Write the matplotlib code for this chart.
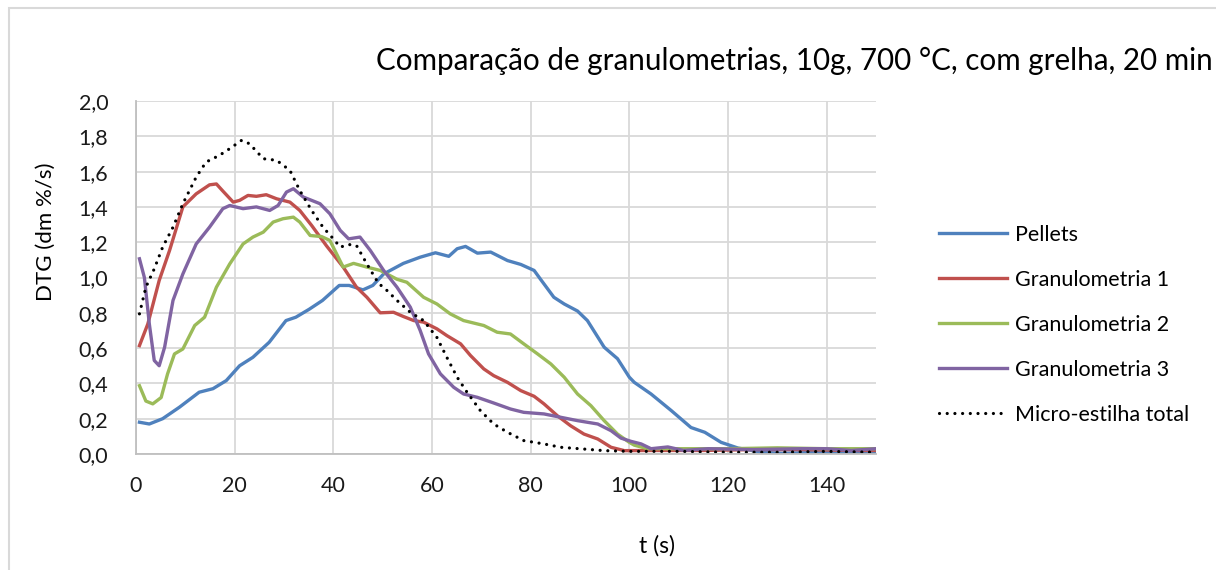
import matplotlib
matplotlib.use("Agg")
import matplotlib.pyplot as plt
from matplotlib.ticker import FuncFormatter, MultipleLocator
from matplotlib.patches import Rectangle

plt.rcParams['font.family'] = ['Lato', 'DejaVu Sans']

title = "Comparação de granulometrias, 10g, 700 °C, com grelha, 20 min"
xlabel = "t (s)"
ylabel = "DTG (dm %/s)"

pellets_t = [0.7, 2.7, 5.4, 8.8, 12.8, 15.6, 18.3, 21, 23.7, 27, 30.4, 32.4, 35.1, 37.8, 41.2, 43.2, 46, 48,
             50.2, 54.2, 57.6, 60.7, 63.4, 65.1, 66.8, 69.2, 71.9, 75.3, 78, 80.7, 82, 84.7, 86.8, 89.5, 91.5,
             94.9, 97.6, 100, 101, 104.4, 108.5, 112.5, 115.3, 118.6, 122, 126.8, 131, 139, 145.8, 150]
pellets_v = [0.18, 0.17, 0.20, 0.265, 0.35, 0.37, 0.416, 0.50, 0.548, 0.633, 0.756, 0.775, 0.82, 0.87, 0.955,
             0.955, 0.93, 0.955, 1.02, 1.08, 1.115, 1.14, 1.12, 1.163, 1.176, 1.138, 1.144, 1.096, 1.074, 1.04,
             0.99, 0.888, 0.85, 0.81, 0.756, 0.605, 0.54, 0.435, 0.406, 0.34, 0.246, 0.15, 0.123, 0.066, 0.034,
             0.01, 0.004, 0.01, 0.004, 0.01]

gran1_t = [0.7, 2.4, 4.7, 6.8, 9.5, 12.2, 14.9, 16.3, 17.6, 19.7, 21, 22.7, 24.4, 26.4, 28.5, 31.2, 33.2, 35.6,
           38.6, 42, 44.7, 46.8, 49.5, 52.2, 54.2, 56.3, 58.3, 61, 63, 65.8, 67.8, 70.5, 72.5, 75.3, 78, 80.7,
           82.7, 85.4, 88.1, 90.8, 93.6, 96.3, 99, 105, 115, 125, 135, 145, 150]
gran1_v = [0.614, 0.737, 0.983, 1.153, 1.40, 1.474, 1.525, 1.53, 1.49, 1.427, 1.437, 1.465, 1.46, 1.469, 1.446,
           1.427, 1.38, 1.295, 1.18, 1.059, 0.945, 0.888, 0.80, 0.803, 0.779, 0.756, 0.747, 0.709, 0.671, 0.624,
           0.558, 0.482, 0.444, 0.406, 0.359, 0.327, 0.284, 0.217, 0.16, 0.113, 0.085, 0.038, 0.019, 0.02, 0.02,
           0.025, 0.025, 0.02, 0.02]

gran2_t = [0.7, 2, 3.4, 5.1, 6.4, 7.8, 9.5, 11.9, 13.9, 16.3, 19, 21.7, 23.7, 25.8, 27.8, 29.8, 31.9, 33.2, 35.3,
           37.6, 39.3, 42, 44.1, 46.8, 49.5, 52.9, 54.9, 58.3, 61, 63.7, 66.4, 70.5, 73.2, 75.9, 78.6, 81.4, 84.1,
           86.8, 89.5, 92.2, 94.9, 97.6, 100, 101, 103.7, 110, 120, 130, 140, 150]
gran2_v = [0.387, 0.30, 0.284, 0.32, 0.454, 0.567, 0.595, 0.728, 0.775, 0.945, 1.077, 1.19, 1.229, 1.257, 1.314,
           1.333, 1.342, 1.314, 1.238, 1.232, 1.21, 1.059, 1.08, 1.059, 1.04, 0.99, 0.973, 0.888, 0.85, 0.794,
           0.756, 0.728, 0.69, 0.68, 0.624, 0.567, 0.51, 0.435, 0.34, 0.274, 0.189, 0.113, 0.066, 0.05, 0.03,
           0.03, 0.03, 0.035, 0.03, 0.03]

gran3_t = [0.7, 1.7, 2.7, 3.7, 4.7, 5.8, 7.5, 9.5, 12.2, 14.9, 17.6, 19, 21.7, 24.4, 27.1, 28.8, 30.5, 31.9, 33.9,
           37.3, 39.3, 41.4, 43.1, 45.4, 47.5, 50.2, 52.9, 55.6, 57.6, 59.3, 61.7, 64.4, 66.4, 69.2, 72.5, 75.9,
           78.6, 82.7, 86.1, 89.5, 93.6, 96.3, 98.3, 100.3, 102.4, 104.4, 107.8, 111, 116, 125, 135, 140, 145, 150]
gran3_v = [1.106, 1.0, 0.737, 0.53, 0.50, 0.605, 0.87, 1.02, 1.19, 1.285, 1.39, 1.408, 1.39, 1.40, 1.38, 1.408,
           1.484, 1.503, 1.456, 1.418, 1.361, 1.267, 1.219, 1.229, 1.153, 1.04, 0.945, 0.832, 0.70, 0.567, 0.454,
           0.378, 0.34, 0.321, 0.289, 0.255, 0.236, 0.227, 0.208, 0.189, 0.17, 0.132, 0.09, 0.072, 0.057, 0.03,
           0.04, 0.02, 0.03, 0.025, 0.03, 0.03, 0.02, 0.03]

micro_t = [0.7, 2, 3.7, 5.4, 7.5, 9.5, 12.2, 14.2, 16.9, 19, 21.4, 23, 25.8, 28.5, 31.2, 33.2, 35.6, 37.9, 40,
           41.4, 43.1, 44.7, 46.8, 49.2, 50.2, 52.9, 55.6, 58.3, 61, 63, 65.1, 67.1, 69.8, 72.5, 75.3, 78.6, 82.7,
           86.1, 90.8, 94.9, 100, 110, 120, 130, 140, 150]
micro_v = [0.794, 0.945, 1.049, 1.172, 1.285, 1.418, 1.569, 1.654, 1.692, 1.73, 1.777, 1.758, 1.673, 1.664, 1.607,
           1.493, 1.38, 1.285, 1.219, 1.172, 1.187, 1.181, 1.077, 0.964, 0.945, 0.87, 0.803, 0.756, 0.66, 0.548,
           0.435, 0.35, 0.246, 0.17, 0.123, 0.076, 0.057, 0.038, 0.028, 0.019, 0.015, 0.015, 0.01, 0.01, 0.015, 0.01]

series_labels = ["Pellets", "Granulometria 1", "Granulometria 2", "Granulometria 3", "Micro-estilha total"]

W, H = 1216, 570
fig = plt.figure(figsize=(W / 100, H / 100), dpi=100)
fig.patch.set_facecolor('white')

# chart outer border
fig.patches.append(Rectangle((9 / W, -0.05), 1.2, (H - 8) / H + 0.05, transform=fig.transFigure,
                             fill=False, edgecolor='#D9D9D9', linewidth=1.5))

L, R, T, B = 136, 876, 101, 454
ax = fig.add_axes([L / W, (H - B) / H, (R - L) / W, (B - T) / H])

lw = 2.4
ax.plot(pellets_t, pellets_v, color='#4F81BD', lw=lw, label=series_labels[0], solid_joinstyle='round')
ax.plot(gran1_t, gran1_v, color='#C0504D', lw=lw, label=series_labels[1], solid_joinstyle='round')
ax.plot(gran2_t, gran2_v, color='#9BBB59', lw=lw, label=series_labels[2], solid_joinstyle='round')
ax.plot(gran3_t, gran3_v, color='#8064A2', lw=lw, label=series_labels[3], solid_joinstyle='round')
ax.plot(micro_t, micro_v, color='black', lw=2.3, linestyle=(0, (0.01, 2.4)), dash_capstyle='round',
        label=series_labels[4])

ax.set_xlim(0, 150)
ax.set_ylim(0, 2.0)
ax.xaxis.set_major_locator(MultipleLocator(20))
ax.yaxis.set_major_locator(MultipleLocator(0.2))
ax.yaxis.set_major_formatter(FuncFormatter(lambda v, p: f"{v:.1f}".replace('.', ',')))
ax.xaxis.set_major_formatter(FuncFormatter(lambda v, p: f"{v:.0f}"))
ax.grid(True, color='#D9D9D9', linewidth=1.3)
ax.set_axisbelow(True)
for s in ['top', 'right']:
    ax.spines[s].set_visible(False)
for s in ['left', 'bottom']:
    ax.spines[s].set_color('#BFBFBF')
    ax.spines[s].set_linewidth(1.3)
ax.tick_params(length=0, labelsize=15.5, colors='#1a1a1a')
ax.tick_params(axis='y', pad=20)
ax.tick_params(axis='x', pad=16)

fig.text(794 / W, 1 - 61 / H, title, ha='center', va='center', fontsize=21.3, color='black')
fig.text(657 / W, 1 - 546 / H, xlabel, ha='center', va='center', fontsize=16.5, color='black')
fig.text(46 / W, 1 - 232 / H, ylabel, ha='center', va='center', rotation=90, fontsize=16, color='black')

fig.legend(loc='upper left', bbox_to_anchor=(928 / W, 1 - 214 / H), frameon=False, fontsize=15.5,
           handlelength=3.15, handletextpad=0.37, labelspacing=1.16, borderpad=0)

fig.savefig("out.png", dpi=100, facecolor='white')
